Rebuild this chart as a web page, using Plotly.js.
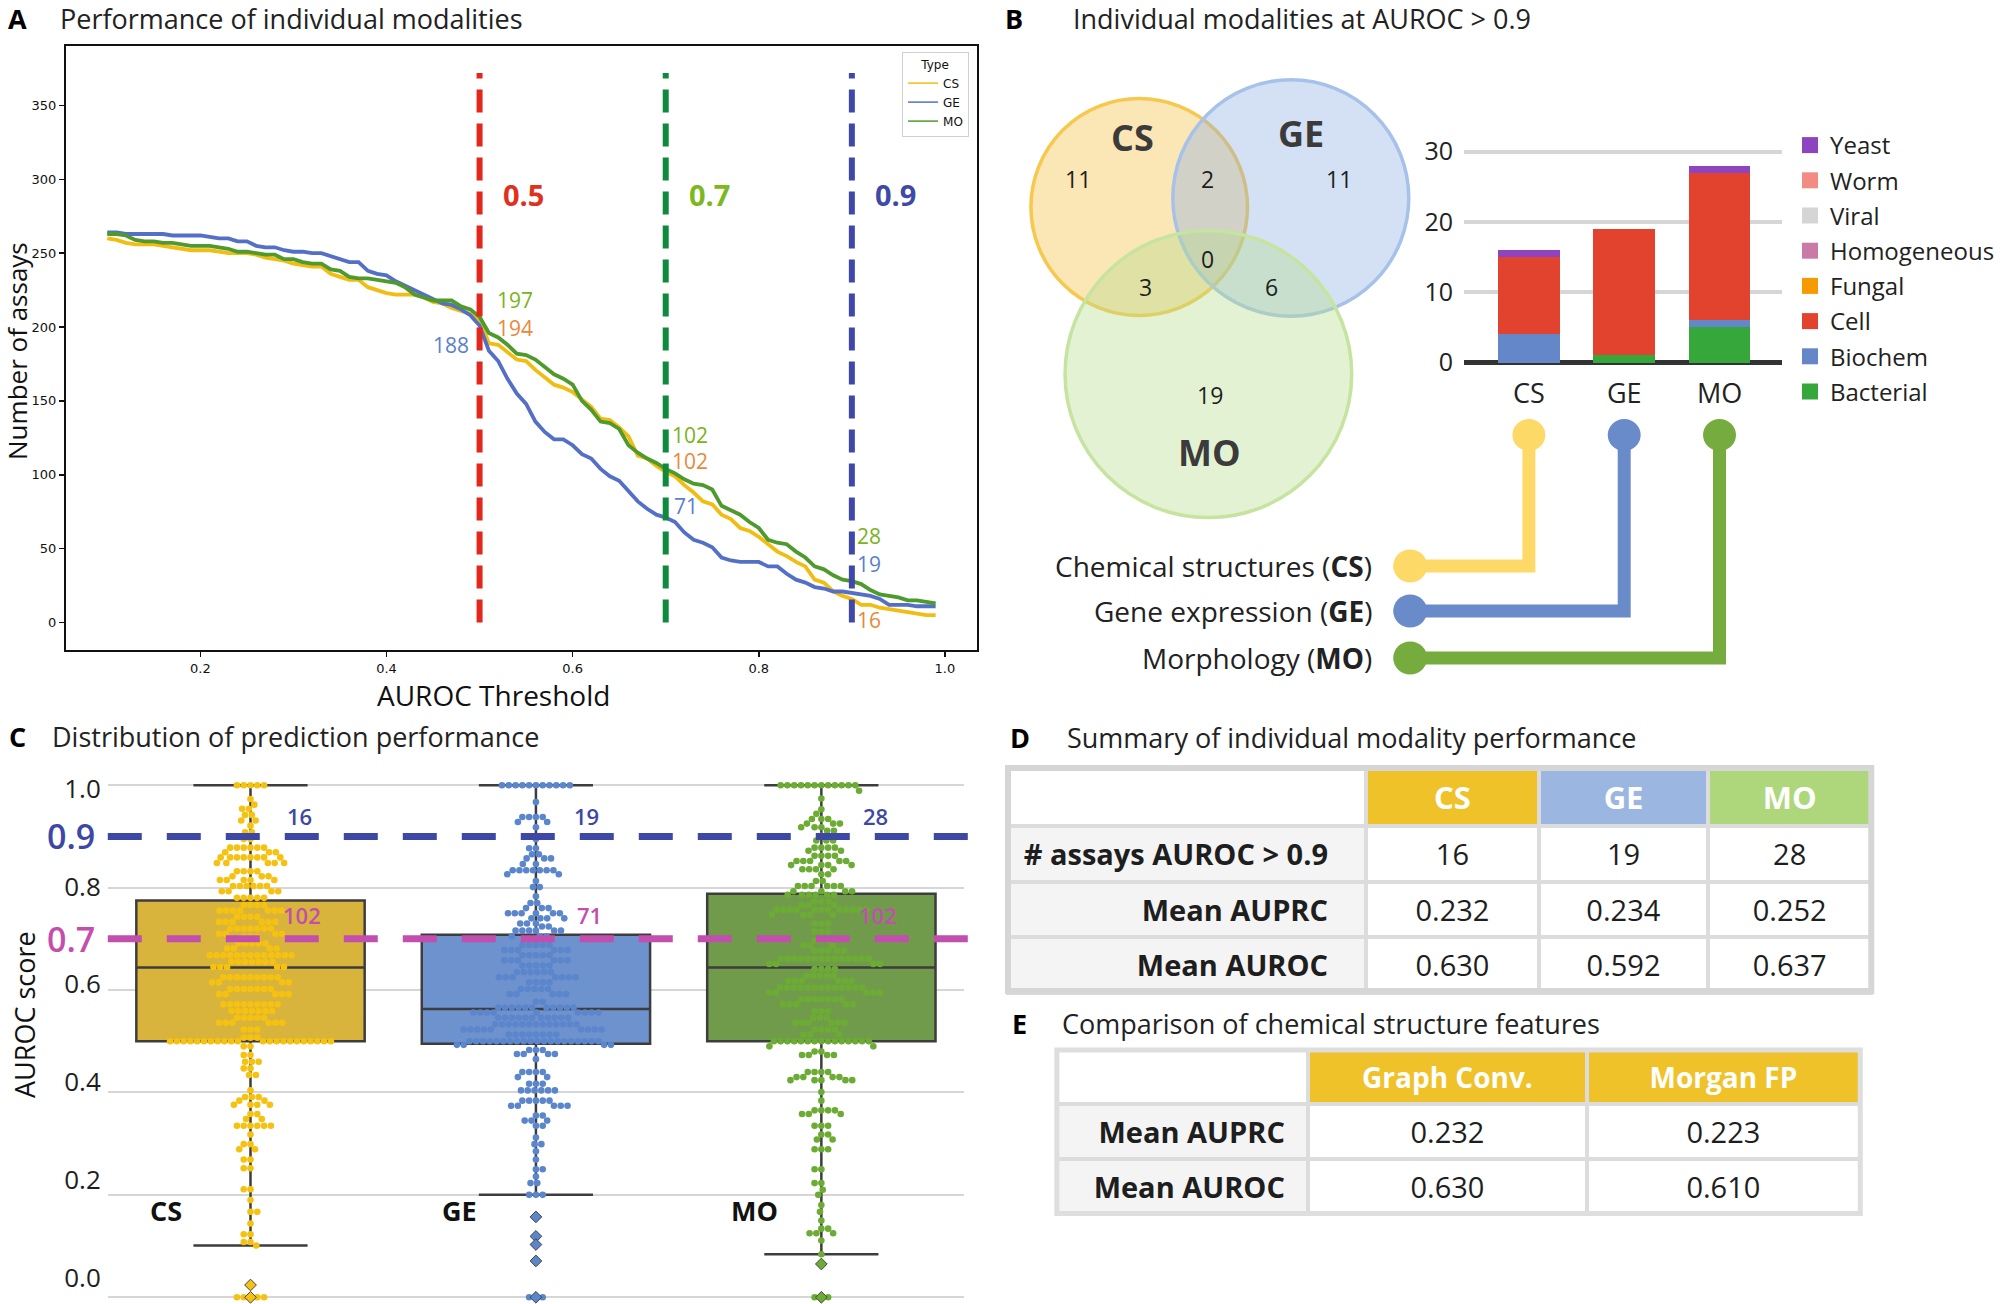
<!DOCTYPE html>
<html><head><meta charset="utf-8">
<script src="https://cdn.plot.ly/plotly-3.0.1.min.js"></script>
<style>html,body{margin:0;padding:0;background:#fff}#chart{width:2000px;height:1304px}</style>
</head><body><div id="chart"></div>
<script>
// ================= DATA =================
const modalities = ['CS', 'GE', 'MO'];

// Panel A: number of assays with AUROC above threshold
const thresholds = [0.10,0.11,0.12,0.13,0.14,0.15,0.16,0.17,0.18,0.19,
0.20,0.21,0.22,0.23,0.24,0.25,0.26,0.27,0.28,0.29,
0.30,0.31,0.32,0.33,0.34,0.35,0.36,0.37,0.38,0.39,
0.40,0.41,0.42,0.43,0.44,0.45,0.46,0.47,0.48,0.49,
0.50,0.51,0.52,0.53,0.54,0.55,0.56,0.57,0.58,0.59,
0.60,0.61,0.62,0.63,0.64,0.65,0.66,0.67,0.68,0.69,
0.70,0.71,0.72,0.73,0.74,0.75,0.76,0.77,0.78,0.79,
0.80,0.81,0.82,0.83,0.84,0.85,0.86,0.87,0.88,0.89,
0.90,0.91,0.92,0.93,0.94,0.95,0.96,0.97,0.98,0.99];
const countCS = [260,259,257,256,256,256,255,254,253,252,
252,252,251,250,250,250,249,247,246,245,
243,242,241,241,236,234,232,232,227,225,
223,222,222,222,220,217,216,213,211,209,
205,189,188,183,178,177,171,166,161,159,
156,151,146,138,137,132,126,113,111,106,
102,99,93,88,82,80,73,70,64,62,
58,53,48,45,41,38,29,27,21,18,
16,12,12,10,9,8,7,6,5,5];
const countGE = [264,264,263,263,263,263,263,262,262,262,
262,261,260,260,258,258,255,254,254,252,
251,251,250,250,248,246,244,244,238,236,
235,231,228,225,222,219,216,215,212,208,
201,184,177,165,155,148,136,129,124,124,
120,114,111,104,99,96,89,82,77,73,
71,68,61,56,54,51,44,42,41,41,
41,38,38,33,29,27,24,23,21,21,
20,19,18,16,12,12,12,11,11,11];
const countMO = [263,263,262,259,258,258,257,257,256,255,
255,255,254,253,251,251,250,249,249,246,
246,244,243,243,239,238,234,233,233,232,
231,230,227,222,220,218,218,218,214,212,
207,196,193,188,182,181,178,173,168,165,
161,150,144,136,135,131,120,115,111,108,
104,101,97,94,93,90,79,76,73,68,
64,56,54,53,48,44,38,36,32,29,
28,26,22,19,18,17,15,15,14,13];
const markedThresholds = [0.5, 0.7, 0.9];
const markedCS = [194, 102, 16];
const markedGE = [188, 71, 19];
const markedMO = [197, 102, 28];

// Panel B: Venn region counts (AUROC > 0.9)
const vennRegions = ['CS only', 'CS & GE', 'GE only', 'CS & GE & MO', 'CS & MO', 'GE & MO', 'MO only'];
const vennCounts = [11, 2, 11, 0, 3, 6, 19];
const modalityNames = ['Chemical structures', 'Gene expression', 'Morphology'];

// Panel B: assay types of assays with AUROC > 0.9 (stack order bottom -> top)
const assayTypes = ['Bacterial', 'Biochem', 'Cell', 'Fungal', 'Homogeneous', 'Viral', 'Worm', 'Yeast'];
const typeCS = [0, 4, 11, 0, 0, 0, 0, 1];
const typeGE = [1, 0, 18, 0, 0, 0, 0, 0];
const typeMO = [5, 1, 21, 0, 0, 0, 0, 1];

// Panel C: box statistics
const boxQ1 = [0.500, 0.495, 0.500];
const boxMedian = [0.644, 0.563, 0.644];
const boxQ3 = [0.775, 0.708, 0.788];
const boxLower = [0.101, 0.200, 0.084];
const boxUpper = [1.0, 1.0, 1.0];
const fliersCS = [0.024, 0.0];
const fliersGE = [0.157, 0.119, 0.103, 0.071, 0.0];
const fliersMO = [0.065, 0.0];

// Panel C: swarm AUROC values (level, number of assays at that level)
const csLevels = [1.0,0.973,0.962,0.954,0.942,0.931,0.921,0.908,
0.895,0.878,0.869,0.859,0.848,0.832,0.822,0.815,0.803,
0.793,0.780,0.766,0.755,0.743,0.733,0.720,0.710,0.704,
0.691,0.681,0.668,0.655,0.645,0.625,0.615,0.602,
0.592,0.572,0.559,0.546,0.536,0.523,0.507,
0.500,
0.490,0.473,0.460,0.447,0.434,0.404,0.391,0.384,0.376,0.358,0.348,0.335,0.318,0.299,0.289,0.269,0.252,0.211,0.190,0.167,0.144,0.123,0.108,0.101,0.024,0.0];
const csCounts = [5,1,1,2,2,2,1,2,
2,6,3,8,5,4,3,5,6,
4,5,4,7,4,6,7,4,3,
5,4,13,7,5,9,4,7,
5,9,7,5,6,3,3,
22,
2,2,3,2,2,1,3,2,4,2,2,6,1,2,2,2,2,2,1,2,1,2,2,1,1,5];
const geLevels = [1.0,0.967,0.938,0.928,0.918,
0.895,0.877,0.865,0.857,0.846,0.834,0.826,0.813,0.801,
0.783,0.770,0.760,0.750,0.740,0.730,0.724,0.716,0.705,
0.688,0.678,0.668,0.658,0.648,0.635,0.625,0.615,0.602,
0.592,0.577,0.566,0.556,0.546,0.533,0.523,0.513,
0.500,
0.493,0.483,0.475,0.465,0.440,0.430,0.417,0.404,0.384,0.374,0.355,0.345,0.335,0.312,0.299,0.285,0.269,0.250,0.236,0.223,0.200,
0.157,0.119,0.103,0.071,0.0];
const geCounts = [11,1,4,2,1,
1,2,2,3,2,7,2,1,2,
1,2,3,6,4,3,2,6,3,
5,6,5,6,5,6,7,4,5,
5,2,11,9,11,13,9,8,
20,
4,3,4,1,4,2,3,6,5,5,2,3,2,1,2,1,1,2,1,2,3,
1,1,1,1,3];
const moLevels = [1.0,0.989,0.974,0.953,0.944,0.934,0.925,0.918,0.911,0.901,
0.892,0.878,0.872,0.862,0.852,0.844,0.836,0.826,0.813,0.803,
0.793,0.786,0.773,0.766,0.757,0.747,0.730,0.714,
0.697,0.687,0.677,0.661,0.651,0.641,0.628,0.618,0.605,
0.595,0.582,0.572,0.559,0.546,0.536,0.523,0.513,
0.500,
0.490,0.480,0.473,0.440,0.430,0.424,0.401,0.384,0.365,0.358,0.335,0.318,0.308,0.289,0.250,0.223,0.210,0.200,0.180,0.167,0.150,0.134,0.125,0.111,0.084,
0.065,0.0];
const moCounts = [12,1,1,1,1,3,3,3,2,1,
3,4,2,4,5,4,4,2,2,6,
4,6,3,3,12,4,3,3,
3,3,5,14,4,4,5,6,13,
5,7,5,3,3,6,4,3,
15,
2,2,4,4,4,5,1,1,4,3,3,2,2,3,2,2,1,1,1,1,1,2,3,1,1,
1,3];
const cutoffCounts09 = [16, 19, 28];
const cutoffCounts07 = [102, 71, 102];

// Panel D / E tables
const tableDRowLabels = ['# assays AUROC > 0.9', 'Mean AUPRC', 'Mean AUROC'];
const tableDCS = ['16', '0.232', '0.630'];
const tableDGE = ['19', '0.234', '0.592'];
const tableDMO = ['28', '0.252', '0.637'];
const tableEHeaders = ['Graph Conv.', 'Morgan FP'];
const tableERowLabels = ['Mean AUPRC', 'Mean AUROC'];
const tableEGraphConv = ['0.232', '0.630'];
const tableEMorgan = ['0.223', '0.610'];

// ================= STYLE / LAYOUT =================
const W = 2000, H = 1304;
const PX = x => x / W, PY = y => 1 - y / H;
const FONT = 'Open Sans, Noto Sans, sans-serif';
const MPL = 'DejaVu Sans, sans-serif';
const lineCol = {CS: '#f2bd12', GE: '#5470c6', MO: '#4f9a2d'};
const typeColors = ['#36a83b', '#6487c9', '#e2432e', '#f59a00', '#c97aa6', '#d5d5d5', '#f28b82', '#8e44bf'];
const boxFill = ['#d8b43c', '#6e92ce', '#709b4b'];
const swarmCol = ['#f5c211', '#5b86cc', '#6cac34'];
const connCol = ['#fdd968', '#6a8bca', '#76ab3d'];

const A = {l: 66, r: 979, t: 45.5, b: 650};
const B = {l: 1467, r: 1786, t: 140, b: 365};
const Bxr = [-0.68, 2.66], Byr = [-0.356, 31.65];
const C = {l: 108, r: 966, t: 775, b: 1304};
const Cxr = [-0.5, 2.5], Cyr = [-0.0131, 1.0199];

const traces = [];
const shapes = [];
const annotations = [];

function txt(text, x, y, size, color, xanchor, extra) {
  annotations.push(Object.assign({
    xref: 'paper', yref: 'paper', x: PX(x), y: PY(y), text: text, showarrow: false,
    xanchor: xanchor || 'center', yanchor: 'middle',
    font: {family: FONT, size: size, color: color || '#222'}
  }, extra || {}));
}

// ---------- Panel A ----------
[['CS', countCS], ['GE', countGE], ['MO', countMO]].forEach(([n, c]) => {
  traces.push({type: 'scatter', mode: 'lines', x: thresholds, y: c, name: n,
    line: {color: lineCol[n], width: 3.8}, xaxis: 'x', yaxis: 'y', showlegend: false, hoverinfo: 'skip'});
});
modalities.forEach(n => {
  traces.push({type: 'scatter', mode: 'lines', x: [null], y: [null], name: n,
    line: {color: lineCol[n], width: 1.5}, xaxis: 'x', yaxis: 'y', legend: 'legend', showlegend: true, hoverinfo: 'skip'});
});
const vlineCol = ['#e2271c', '#0e8a3c', '#3f48a8'];
const vlabelCol = ['#e0301e', '#7db81f', '#3f4aa6'];
markedThresholds.forEach((t, i) => {
  shapes.push({type: 'line', xref: 'x', yref: 'y', x0: t, x1: t, y0: 0, y1: 372,
    line: {color: vlineCol[i], width: 6, dash: '23px,11px'}});
  annotations.push({xref: 'x', yref: 'y', x: t + 0.047, y: 290, text: '<b>' + t.toFixed(1) + '</b>', showarrow: false,
    font: {family: FONT, size: 29, color: vlabelCol[i]}});
});
const colLblGreen = '#7ab31a', colLblOrange = '#e8893a', colLblBlue = '#5b7fcb';
function aLbl(t, v, text, color) {
  annotations.push({xref: 'x', yref: 'y', x: t, y: v, text: String(text), showarrow: false,
    font: {family: FONT, size: 21, color: color}, borderpad: 0});
}
aLbl(0.5376, 218, markedMO[0], colLblGreen);
aLbl(0.5376, 199.5, markedCS[0], colLblOrange);
aLbl(0.469, 188, markedGE[0], colLblBlue);
aLbl(0.7259, 127, markedMO[1], colLblGreen);
aLbl(0.7259, 109.5, markedCS[1], colLblOrange);
aLbl(0.7218, 79, markedGE[1], colLblBlue);
aLbl(0.9184, 58.5, markedMO[2], colLblGreen);
aLbl(0.9184, 39.5, markedGE[2], colLblBlue);
aLbl(0.9184, 2, markedCS[2], colLblOrange);
txt('AUROC Threshold', 494, 695, 28, '#111');
txt('Number of assays', 17, 351, 26, '#111', 'center', {textangle: -90});

// ---------- Panel B: bars ----------
assayTypes.forEach((t, k) => {
  traces.push({type: 'bar', x: modalities, y: [typeCS[k], typeGE[k], typeMO[k]], name: t,
    marker: {color: typeColors[k], line: {width: 0}}, xaxis: 'x2', yaxis: 'y2', showlegend: false, hoverinfo: 'skip'});
});
for (let k = assayTypes.length - 1; k >= 0; k--) {
  traces.push({type: 'scatter', mode: 'markers', x: [null], y: [null], name: assayTypes[k],
    marker: {symbol: 'square', size: 16, color: typeColors[k]}, xaxis: 'x2', yaxis: 'y2',
    legend: 'legend2', legendgroup: assayTypes[k], showlegend: true, hoverinfo: 'skip'});
}

// ---------- Panel B: Venn ----------
const vennGeom = [
  {cx: 1141.5, cy: 207, r: 108.5, fill: 'rgba(245,190,60,0.38)', line: '#f6c84e'},
  {cx: 1293.4, cy: 198, r: 118.2, fill: 'rgba(142,176,229,0.38)', line: '#a6c2ea'},
  {cx: 1210.8, cy: 374, r: 143.6, fill: 'rgba(181,221,139,0.38)', line: '#c6e49f'}
];
vennGeom.forEach(g => {
  shapes.push({type: 'circle', xref: 'paper', yref: 'paper', layer: 'below',
    x0: PX(g.cx - g.r), x1: PX(g.cx + g.r), y0: PY(g.cy + g.r), y1: PY(g.cy - g.r),
    fillcolor: g.fill, line: {color: g.line, width: 3.5}});
});
const vennLabelPos = [[1135, 138], [1304, 133], [1212, 452]];
modalities.forEach((m, i) => txt('<b>' + m + '</b>', vennLabelPos[i][0], vennLabelPos[i][1], 36, '#3b3b3b'));
const vennCountPos = [[1080, 179], [1210, 179], [1342, 179], [1210, 259], [1148, 287], [1274, 287], [1212, 395]];
vennCounts.forEach((c, i) => txt(String(c), vennCountPos[i][0], vennCountPos[i][1], 23, '#1e1e1e'));

// ---------- Panel B: connectors ----------
const barPx = i => B.l + (i - Bxr[0]) / (Bxr[1] - Bxr[0]) * (B.r - B.l);
const connY = [566, 611, 658];
const connLeft = 1413;
modalities.forEach((m, i) => {
  const xb = barPx(i);
  shapes.push({type: 'path', xref: 'paper', yref: 'paper',
    path: `M ${PX(xb)} ${PY(435)} L ${PX(xb)} ${PY(connY[i])} L ${PX(connLeft)} ${PY(connY[i])}`,
    line: {color: connCol[i], width: 13}});
  shapes.push({type: 'circle', xref: 'paper', yref: 'paper', x0: PX(xb - 16.5), x1: PX(xb + 16.5), y0: PY(435 + 16), y1: PY(435 - 16),
    fillcolor: connCol[i], line: {width: 0}});
  shapes.push({type: 'circle', xref: 'paper', yref: 'paper', x0: PX(connLeft - 17), x1: PX(connLeft + 17), y0: PY(connY[i] + 16.5), y1: PY(connY[i] - 16.5),
    fillcolor: connCol[i], line: {width: 0}});
  txt(modalityNames[i] + ' (<b>' + m + '</b>)', 1377, connY[i], 28, '#222', 'right');
});

// ---------- Panel C ----------
const cPxX = (C.r - C.l) / (Cxr[1] - Cxr[0]);
const cPxY = (C.b - C.t) / (Cyr[1] - Cyr[0]);
function expand(levels, counts) {
  const out = [];
  levels.forEach((v, i) => { for (let k = 0; k < counts[i]; k++) out.push(v); });
  return out;
}
function swarm(values, center) {
  const d = 6.8;
  const pts = values.map(v => ({v: v, y: v * cPxY})).sort((a, b) => b.v - a.v);
  const placed = [];
  pts.forEach((p, idx) => {
    const near = placed.filter(q => Math.abs(q.y - p.y) < d);
    const cands = [0];
    near.forEach(q => { const dx = Math.sqrt(d * d - (q.y - p.y) ** 2); cands.push(q.x + dx, q.x - dx); });
    cands.sort((a, b) => (Math.abs(a) - Math.abs(b)) || (idx % 2 ? a - b : b - a));
    for (const c of cands) {
      if (near.every(q => (q.x - c) ** 2 + (q.y - p.y) ** 2 >= d * d - 1e-6)) { p.x = c; break; }
    }
    placed.push(p);
  });
  return {x: placed.map(p => center + p.x / cPxX), y: placed.map(p => p.v)};
}
const swarmData = [expand(csLevels, csCounts), expand(geLevels, geCounts), expand(moLevels, moCounts)];
const fliers = [fliersCS, fliersGE, fliersMO];
modalities.forEach((m, i) => {
  traces.push({type: 'box', name: m, x: [i], q1: [boxQ1[i]], median: [boxMedian[i]], q3: [boxQ3[i]],
    lowerfence: [boxLower[i]], upperfence: [boxUpper[i]], width: 0.8, whiskerwidth: 0.5,
    fillcolor: boxFill[i], line: {color: '#3d3d3d', width: 2.5}, boxpoints: false,
    xaxis: 'x3', yaxis: 'y3', showlegend: false, hoverinfo: 'skip'});
});
modalities.forEach((m, i) => {
  const s = swarm(swarmData[i], i);
  traces.push({type: 'scatter', mode: 'markers', x: s.x, y: s.y, name: m,
    marker: {color: swarmCol[i], size: 6.6, line: {width: 0}}, xaxis: 'x3', yaxis: 'y3', showlegend: false, hoverinfo: 'skip'});
  traces.push({type: 'scatter', mode: 'markers', x: fliers[i].map(() => i), y: fliers[i], name: m + ' outliers',
    marker: {color: swarmCol[i], symbol: 'diamond', size: 9, line: {color: '#444', width: 1}}, xaxis: 'x3', yaxis: 'y3', showlegend: false, hoverinfo: 'skip'});
});
traces.push({type: 'scatter', x: [null], y: [null], xaxis: 'x3', yaxis: 'y4', showlegend: false, hoverinfo: 'skip'});
shapes.push({type: 'line', xref: 'paper', yref: 'y3', x0: PX(108), x1: PX(976), y0: 0.9, y1: 0.9, line: {color: '#3d47a6', width: 7, dash: '34px,25px'}});
shapes.push({type: 'line', xref: 'paper', yref: 'y3', x0: PX(108), x1: PX(976), y0: 0.7, y1: 0.7, line: {color: '#c24fae', width: 7, dash: '34px,25px'}});
annotations.push({xref: 'paper', yref: 'y3', x: PX(97), y: 0.9, xanchor: 'right', yanchor: 'middle', text: '0.9', showarrow: false,
  font: {family: FONT, size: 34, color: '#3d47a6', weight: 600}});
annotations.push({xref: 'paper', yref: 'y3', x: PX(97), y: 0.7, xanchor: 'right', yanchor: 'middle', text: '0.7', showarrow: false,
  font: {family: FONT, size: 34, color: '#c24fae', weight: 600}});
const cLblX = [300, 588, 877];
modalities.forEach((m, i) => {
  txt(String(cutoffCounts09[i]), cLblX[i], 816, 22, '#3d47a6', 'center', {font: {family: FONT, size: 22, color: '#3d47a6', weight: 600}});
  txt(String(cutoffCounts07[i]), cLblX[i] + 3, 915, 22, '#c24fae', 'center', {font: {family: FONT, size: 22, color: '#c24fae', weight: 600}});
});
const cCatX = [166, 460, 756];
modalities.forEach((m, i) => txt('<b>' + m + '</b>', cCatX[i], 1210, 27, '#111'));
txt('AUROC score', 25, 1014, 27, '#111', 'center', {textangle: -90});

// ---------- Panel titles ----------
const panelTitles = [
  ['A', 18, 18, 'Performance of individual modalities', 58, 18],
  ['B', 1016, 18, 'Individual modalities at AUROC > 0.9', 1073, 18],
  ['C', 18, 736, 'Distribution of prediction performance', 50, 736],
  ['D', 1022, 738, 'Summary of individual modality performance', 1067, 738],
  ['E', 1022, 1023, 'Comparison of chemical structure features', 1062, 1023]
];
panelTitles.forEach(p => {
  txt('<b>' + p[0] + '</b>', p[1], p[2], 27, '#000');
  txt(p[3], p[4], p[5], 27, '#222', 'left');
});

// ---------- Tables ----------
const bold = s => '<b>' + s + '</b>';
const span = s => '<span>' + s + '</span>';
const padD = '&nbsp;&nbsp;&nbsp;&nbsp;';
traces.push({type: 'table', domain: {x: [PX(1010), PX(1875)], y: [PY(997), PY(768)]},
  columnwidth: [359, 173, 170, 163],
  header: {values: ['', bold('CS'), bold('GE'), bold('MO')],
    fill: {color: ['#ffffff', '#f0c22a', '#9bb7e1', '#aed77c']},
    font: {family: FONT, size: 31, color: '#ffffff'}, align: 'center', height: 56,
    line: {color: '#dcdcdc', width: 4}},
  cells: {values: [tableDRowLabels.map(s => bold(s) + padD), tableDCS.map(span), tableDGE.map(span), tableDMO.map(span)],
    fill: {color: ['#f4f4f4', '#ffffff', '#ffffff', '#ffffff']},
    font: {family: FONT, size: 29, color: '#1e1e1e'}, align: ['right', 'center', 'center', 'center'], height: 55.5,
    line: {color: '#dcdcdc', width: 4}}
});
const padE = '&nbsp;&nbsp;';
traces.push({type: 'table', domain: {x: [PX(1059), PX(1864)], y: [PY(1219), PY(1050)]},
  columnwidth: [252, 280, 274],
  header: {values: [''].concat(tableEHeaders.map(bold)),
    fill: {color: ['#ffffff', '#f0c22a', '#f0c22a']},
    font: {family: FONT, size: 28, color: '#ffffff'}, align: 'center', height: 54,
    line: {color: '#dcdcdc', width: 4}},
  cells: {values: [tableERowLabels.map(s => bold(s) + padE), tableEGraphConv.map(span), tableEMorgan.map(span)],
    fill: {color: ['#f4f4f4', '#ffffff', '#ffffff']},
    font: {family: FONT, size: 29, color: '#1e1e1e'}, align: ['right', 'center', 'center'], height: 54.5,
    line: {color: '#dcdcdc', width: 4}}
});
shapes.push({type: 'rect', xref: 'paper', yref: 'paper', x0: PX(1010), x1: PX(1875), y0: PY(991), y1: PY(768), line: {color: '#d6d6d6', width: 6}});
shapes.push({type: 'rect', xref: 'paper', yref: 'paper', x0: PX(1059), x1: PX(1864), y0: PY(1213.5), y1: PY(1050), line: {color: '#dedede', width: 5}});

// ================= LAYOUT =================
const layout = {
  width: W, height: H, margin: {l: 0, r: 0, t: 0, b: 0},
  paper_bgcolor: '#ffffff', plot_bgcolor: 'rgba(0,0,0,0)',
  font: {family: FONT, color: '#222'},
  barmode: 'stack', bargap: 0.35,
  xaxis: {domain: [PX(A.l), PX(A.r)], anchor: 'y', range: [0.0555, 1.0345],
    tickvals: [0.2, 0.4, 0.6, 0.8, 1.0], tickformat: '.1f', ticks: 'outside', ticklen: 5, tickwidth: 1.5, tickcolor: '#111',
    tickfont: {family: MPL, size: 13, color: '#111'}, showline: true, linecolor: '#111', linewidth: 2, mirror: true,
    showgrid: false, zeroline: false},
  yaxis: {domain: [PY(A.b), PY(A.t)], anchor: 'x', range: [-18.6, 390.6],
    tickvals: [0, 50, 100, 150, 200, 250, 300, 350], ticks: 'outside', ticklen: 5, tickwidth: 1.5, tickcolor: '#111',
    tickfont: {family: MPL, size: 13, color: '#111'}, showline: true, linecolor: '#111', linewidth: 2, mirror: true,
    showgrid: false, zeroline: false},
  xaxis2: {domain: [PX(B.l), PX(B.r)], anchor: 'y2', type: 'category', range: Bxr, showgrid: false, zeroline: false,
    showline: false, ticks: '', tickfont: {family: FONT, size: 27, color: '#222'}, ticklabelstandoff: 10},
  yaxis2: {domain: [PY(B.b), PY(B.t)], anchor: 'x2', range: Byr, tickvals: [0, 10, 20, 30],
    gridcolor: '#d6d6d6', gridwidth: 4, zeroline: true, zerolinecolor: '#333333', zerolinewidth: 5,
    showline: false, ticks: '', tickfont: {family: FONT, size: 25, color: '#222'}, ticklabelstandoff: 10},
  xaxis3: {domain: [PX(C.l), PX(C.r)], anchor: 'y3', range: Cxr, showgrid: false, zeroline: false,
    showticklabels: false, ticks: '', showline: false},
  yaxis3: {domain: [PY(C.b), PY(C.t)], anchor: 'x3', range: Cyr, tickvals: [0, 0.2, 0.4, 0.6, 0.8, 1.0],
    showticklabels: false, ticks: '', gridcolor: '#d6d6d6', gridwidth: 2, zeroline: false, showline: false},
  yaxis4: {overlaying: 'y3', anchor: 'x3', side: 'left', range: [-0.0542, 1.0284],
    tickvals: [0, 0.2, 0.4, 0.6, 0.8, 1.0], ticktext: ['0.0', '0.2', '0.4', '0.6', '0.8', '1.0'],
    showgrid: false, zeroline: false, showline: false, ticks: '', ticklabelstandoff: 6,
    tickfont: {family: FONT, size: 26, color: '#1e1e1e'}},
  legend: {x: PX(971), xanchor: 'right', y: PY(52), yanchor: 'top', bgcolor: '#ffffff',
    bordercolor: '#d0d0d0', borderwidth: 1, font: {family: MPL, size: 12, color: '#111'},
    title: {text: 'Type', side: 'top center', font: {family: MPL, size: 12, color: '#111'}},
    itemwidth: 30, tracegroupgap: 0, traceorder: 'normal'},
  legend2: {x: PX(1794), xanchor: 'left', y: PY(123), yanchor: 'top', bgcolor: 'rgba(0,0,0,0)',
    borderwidth: 0, font: {family: FONT, size: 24, color: '#222'}, itemwidth: 30,
    traceorder: 'grouped', tracegroupgap: 1},
  shapes: shapes,
  annotations: annotations
};

Plotly.newPlot('chart', traces, layout, {staticPlot: true, displayModeBar: false});
</script>
</body></html>
